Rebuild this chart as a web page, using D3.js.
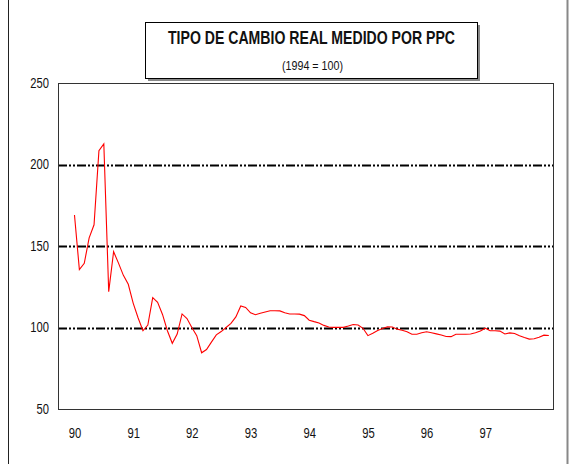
<!DOCTYPE html>
<html>
<head>
<meta charset="utf-8">
<script src="https://cdn.jsdelivr.net/npm/d3@7"></script>
<style>
  html, body { margin: 0; padding: 0; background: #fff; }
  svg { display: block; }
  text { font-family: "Liberation Sans", Arial, sans-serif; fill: #111; }
</style>
</head>
<body>
<svg id="chart" width="575" height="464"></svg>
<script>
// Real exchange rate (PPC based), monthly, Jan 1990 onward, index 1994 = 100
const titleText = "TIPO DE CAMBIO REAL MEDIDO POR PPC";
const subtitleText = "(1994 = 100)";
const yearLabels = ["90", "91", "92", "93", "94", "95", "96", "97"];
const yTicks = [50, 100, 150, 200, 250];
const gridValues = [100, 150, 200];
const tcr = [
  169, 135.5, 139.4, 155, 163, 208.5, 212.6, 122, 146.5, 139.5,
  132, 126.5, 115, 106, 98, 101.5, 118.3, 115.5, 108, 98,
  90.3, 96, 108.3, 105.5, 100, 95, 84.5, 86.5, 91, 95.5,
  97.5, 100, 102.5, 106.5, 113.2, 112.3, 109, 107.8, 108.7, 109.5,
  110.3, 110.3, 110.2, 109, 108.3, 108.3, 108.2, 107.3, 104.5, 103.6,
  102.8, 101.3, 100.3, 100.1, 100.1, 100.1, 100.9, 101.8, 101.5, 99.5,
  95, 96.5, 98.2, 99.4, 100.5, 100.3, 99, 98.3, 97.4, 95.9,
  95.9, 96.8, 97.4, 96.8, 96.1, 95.4, 94.5, 94.4, 95.9, 95.9,
  95.9, 96, 96.8, 97.9, 99.6, 98, 98, 97.8, 96, 96.7,
  96.3, 95, 93.9, 92.9, 93.1, 94, 95.3, 95.1
];

const svg = d3.select("#chart");
const plot = { left: 58, right: 553, top: 83, bottom: 409 };

// condensed look: squeeze each text horizontally
function narrow(sel, factor) {
  sel.each(function () {
    const w = this.getComputedTextLength();
    d3.select(this).attr("textLength", w * factor).attr("lengthAdjust", "spacingAndGlyphs");
  });
}

// outer frame
svg.append("line").attr("x1", 8.5).attr("x2", 8.5).attr("y1", 0).attr("y2", 464)
  .attr("stroke", "#222").attr("stroke-width", 1);
svg.append("line").attr("x1", 567.5).attr("x2", 567.5).attr("y1", 0).attr("y2", 464)
  .attr("stroke", "#888").attr("stroke-width", 2);

const x = d3.scaleLinear().domain([-3.37, 97.85]).range([plot.left, plot.right]);
const y = d3.scaleLinear().domain([50, 250]).range([plot.bottom, plot.top]);

// grid lines (dash-dot-dot)
svg.append("g").selectAll("line").data(gridValues).join("line")
  .attr("x1", plot.left).attr("x2", plot.right)
  .attr("y1", d => Math.round(y(d)) + 0.5).attr("y2", d => Math.round(y(d)) + 0.5)
  .attr("stroke", "#000").attr("stroke-width", 2.2)
  .attr("stroke-dasharray", "9,2,2,2,2,2");

// plot frame
svg.append("rect")
  .attr("x", plot.left + 0.5).attr("y", plot.top + 0.5)
  .attr("width", plot.right - plot.left).attr("height", plot.bottom - plot.top)
  .attr("fill", "none").attr("stroke", "#333").attr("stroke-width", 1);

// y axis labels
const yAxis = d3.axisLeft(y).tickValues(yTicks).tickSize(0).tickPadding(9);
const gy = svg.append("g").attr("transform", `translate(${plot.left},0)`).call(yAxis);
gy.select(".domain").remove();
gy.selectAll("text").attr("font-size", 14).attr("fill", "#111")
  .style("font-family", "\"Liberation Sans\", Arial, sans-serif")
  .call(narrow, 0.8);

// x axis labels, one per January
const xAxis = d3.axisBottom(x).tickValues(yearLabels.map((d, i) => i * 12))
  .tickFormat((d, i) => yearLabels[i]).tickSize(0).tickPadding(18);
const gx = svg.append("g").attr("transform", `translate(0,${plot.bottom})`).call(xAxis);
gx.select(".domain").remove();
gx.selectAll("text").attr("font-size", 15).attr("fill", "#111")
  .style("font-family", "\"Liberation Sans\", Arial, sans-serif")
  .call(narrow, 0.75);

// series line
const line = d3.line().x((d, i) => x(i)).y(d => y(d));
svg.append("path").datum(tcr)
  .attr("d", line).attr("fill", "none")
  .attr("stroke", "#ff0000").attr("stroke-width", 1.1);

// title box with shadow
const box = { x: 145, y: 22, w: 332, h: 56 };
svg.append("rect").attr("x", box.x + 3).attr("y", box.y + 3)
  .attr("width", box.w).attr("height", box.h).attr("fill", "#888");
svg.append("rect").attr("x", box.x + 0.5).attr("y", box.y + 0.5)
  .attr("width", box.w).attr("height", box.h)
  .attr("fill", "#fff").attr("stroke", "#000").attr("stroke-width", 1);
svg.append("text").attr("x", 311.5).attr("y", 43.5)
  .attr("text-anchor", "middle").attr("font-size", 19).attr("font-weight", "bold")
  .attr("textLength", 287).attr("lengthAdjust", "spacingAndGlyphs")
  .text(titleText);
svg.append("text").attr("x", 312.5).attr("y", 70)
  .attr("text-anchor", "middle").attr("font-size", 13)
  .attr("textLength", 61).attr("lengthAdjust", "spacingAndGlyphs")
  .text(subtitleText);
</script>
</body>
</html>
